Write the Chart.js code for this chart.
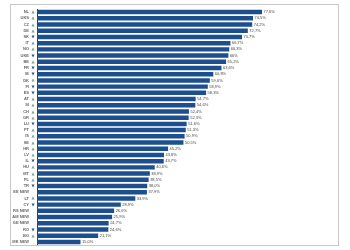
<!DOCTYPE html>
<html>
<head>
<meta charset="utf-8">
<script src="https://cdn.jsdelivr.net/npm/chart.js@4/dist/chart.umd.min.js"></script>
<style>
  html, body { margin: 0; padding: 0; background: #fff; }
  #wrap { position: relative; width: 350px; height: 250px; }
  #frame { position: absolute; left: 10px; top: 4px; width: 329px; height: 242px; border: 1px solid #c8c8c8; box-sizing: border-box; }
</style>
</head>
<body>
<div id="wrap">
  <div id="frame"></div>
  <canvas id="myChart" width="350" height="250"></canvas>
</div>
<script>
"use strict";

const countries = [
  "NL", "UKS", "CZ", "DE", "SK", "IT", "NO", "UKE", "BE", "FR",
  "IE", "DK", "FI", "ES", "AT", "SI", "CH", "GR", "LU", "PT",
  "IS", "SE", "HR", "LV", "IL", "HU", "MT", "PL", "TR", "EE NEW",
  "LT", "CY", "RS NEW", "AM NEW", "GE NEW", "RO", "BG", "MK NEW",
];

const shares = [
  77.6, 74.5, 74.2, 72.7, 70.7, 66.7, 66.3, 66.0, 65.2, 63.6,
  60.8, 59.6, 58.9, 58.3, 54.7, 54.6, 52.4, 52.3, 51.6, 51.3,
  50.9, 50.5, 45.2, 43.8, 43.7, 40.6, 38.9, 38.5, 38.0, 37.9,
  33.9, 28.9, 26.6, 25.9, 24.7, 24.6, 21.1, 15.0,
];

// "up", "down" or "" (new participants have no trend)
const trends = [
  "up", "up", "up", "up", "down", "up", "up", "down", "up", "down",
  "down", "up", "down", "down", "up", "up", "up", "up", "down", "up",
  "up", "up", "up", "up", "down", "up", "up", "up", "down", "",
  "up", "down", "", "", "", "down", "up", "",
];

const barColor = "#1d4f8f";
const upColor = "#7fa889";
const downColor = "#2a5a96";

function formatShare(v) {
  if (v === 66) return "66%";
  return v.toFixed(1).replace(".", ",") + "%";
}

const labelPlugin = {
  id: "labelPlugin",
  afterDatasetsDraw(chart) {
    const ctx = chart.ctx;
    const yScale = chart.scales.y;
    const xScale = chart.scales.x;
    const area = chart.chartArea;
    ctx.save();
    // axis line runs on to the frame edge
    ctx.strokeStyle = "#222";
    ctx.lineWidth = 1;
    ctx.beginPath();
    ctx.moveTo(area.left, Math.round(area.bottom) + 0.5);
    ctx.lineTo(339, Math.round(area.bottom) + 0.5);
    ctx.stroke();

    ctx.textBaseline = "middle";
    for (let i in countries) {
      let y = yScale.getPixelForValue(Number(i));
      // country code
      ctx.font = "bold 4px 'Liberation Sans', Arial, sans-serif";
      ctx.fillStyle = "#666";
      ctx.textAlign = "right";
      ctx.fillText(countries[i], area.left - 8, y);
      // trend arrow
      if (trends[i]) {
        ctx.font = "4px 'DejaVu Sans', sans-serif";
        ctx.fillStyle = trends[i] === "up" ? upColor : downColor;
        ctx.textAlign = "center";
        ctx.fillText(trends[i] === "up" ? "\u25B2" : "\u25BC", area.left - 4, y);
      }
      // value label
      ctx.font = "4px 'Liberation Sans', Arial, sans-serif";
      ctx.fillStyle = "#444";
      ctx.textAlign = "left";
      ctx.fillText(formatShare(shares[i]), xScale.getPixelForValue(shares[i]) + 1.5, y);
    }
    ctx.restore();
  },
};

const ctx = document.getElementById("myChart").getContext("2d");

const myChart = new Chart(ctx, {
  type: "bar",
  data: {
    labels: countries,
    datasets: [
      {
        data: shares,
        backgroundColor: barColor,
        barPercentage: 0.72,
        categoryPercentage: 1,
      },
    ],
  },
  options: {
    indexAxis: "y",
    responsive: false,
    animation: false,
    devicePixelRatio: 1,
    layout: {
      padding: { left: 37, right: 23, top: 9, bottom: 5 },
    },
    plugins: {
      legend: { display: false },
      tooltip: { enabled: false },
    },
    scales: {
      x: {
        min: 0,
        max: 100,
        ticks: { display: false },
        grid: { display: false, drawTicks: false },
        border: { display: true, color: "#222", width: 1 },
      },
      y: {
        ticks: { display: false },
        grid: { display: false, drawTicks: false },
        border: { display: true, color: "#1d3f70", width: 1 },
      },
    },
  },
  plugins: [labelPlugin],
});
</script>
</body>
</html>
